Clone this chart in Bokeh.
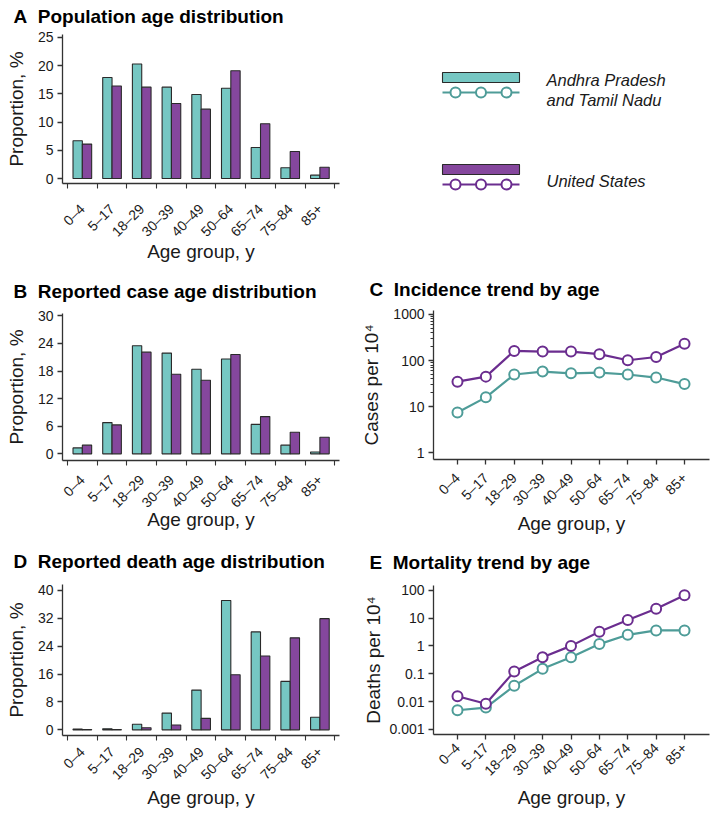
import math
from bokeh.plotting import figure
from bokeh.models import ColumnDataSource, Range1d, FixedTicker, CustomJSTickFormatter
from bokeh.layouts import column, row
from bokeh.transform import dodge
from bokeh.core.properties import value
from bokeh.embed import file_html
from bokeh.resources import INLINE

# ---------------- data ----------------
age_groups = ["0–4", "5–17", "18–29", "30–39", "40–49", "50–64", "65–74", "75–84", "85+"]

pop_india = [6.7, 17.9, 20.3, 16.2, 14.9, 16.0, 5.5, 1.9, 0.6]
pop_us = [6.1, 16.4, 16.2, 13.3, 12.3, 19.1, 9.7, 4.8, 2.0]

case_india = [1.3, 6.8, 23.5, 21.9, 18.4, 20.6, 6.4, 1.9, 0.4]
case_us = [1.9, 6.3, 22.1, 17.3, 16.0, 21.6, 8.1, 4.7, 3.6]

death_india = [0.2, 0.3, 1.6, 4.8, 11.4, 37.1, 28.1, 13.9, 3.6]
death_us = [0.1, 0.1, 0.6, 1.4, 3.3, 15.8, 21.2, 26.4, 31.9]

inc_india = [7.5, 16, 50, 58, 53, 55, 50, 43, 31]
inc_us = [35, 45, 162, 157, 157, 138, 102, 120, 233]

mort_india = [0.0049, 0.0061, 0.037, 0.15, 0.39, 1.16, 2.5, 3.6, 3.6]
mort_us = [0.0155, 0.0084, 0.12, 0.39, 1.0, 3.2, 8.5, 21.5, 66]

ticks_A = [0, 5, 10, 15, 20, 25]
ticks_B = [0, 6, 12, 18, 24, 30]
ticks_D = [0, 8, 16, 24, 32, 40]
ticks_C = [1, 10, 100, 1000]
minor_C = [20, 30, 40, 50, 60, 70, 80, 90, 200, 300, 400, 500, 600, 700, 800, 900]
ticks_E = [0.001, 0.01, 0.1, 1, 10, 100]

series_names = ["Andhra Pradesh", "and Tamil Nadu", "United States"]

# ---------------- style ----------------
FONT = "Liberation Sans"
CYAN = "#76C7C3"
PURPLE = "#85479D"
TEAL_LINE = "#4E9C98"
PURPLE_LINE = "#6B2D8F"
AX = "#333333"
TXT = "#1a1a1a"
SEP = "\u00a0\u00a0"
TITLE_H = 20      # approx. text box height of the 19px bold title
TITLE_ASC = 20    # approx. offset from box top to baseline

idx = list(range(len(age_groups)))
labels = {i: a for i, a in enumerate(age_groups)}


def style(p):
    p.outline_line_color = None
    p.xgrid.visible = False
    p.ygrid.visible = False
    p.background_fill_color = "white"
    p.border_fill_color = "white"
    for ax in p.axis:
        ax.axis_line_color = AX
        ax.axis_line_width = 1.3
        ax.major_tick_line_color = AX
        ax.major_tick_line_width = 1.3
        ax.minor_tick_line_color = AX
        ax.minor_tick_line_width = 1.1
        ax.major_tick_in = 0
        ax.major_tick_out = 5
        ax.minor_tick_in = 0
        ax.minor_tick_out = 3
        ax.major_label_text_font = FONT
        ax.major_label_text_font_size = "14px"
        ax.major_label_text_color = TXT
        ax.major_label_standoff = 4
        ax.axis_label_text_font = FONT
        ax.axis_label_text_font_size = "19px"
        ax.axis_label_text_font_style = "normal"
        ax.axis_label_text_color = TXT


def set_title(p, text, top, left, baseline):
    t = p.title
    t.text = text
    t.text_font = FONT
    t.text_font_style = "bold"
    t.text_font_size = "19px"
    t.text_color = "black"
    t.align = "left"
    t.vertical_align = "top"
    t.offset = 13 - left
    want_top = baseline - TITLE_ASC
    s = 2 * (top - 2 - TITLE_H - want_top)
    s = max(0, min(s, top - 2 - TITLE_H))
    t.standoff = s


def bar_panel(title, v1, v2, yticks, yr, h, top, bottom, baseline, xl_stand, xal_stand):
    src = ColumnDataSource(dict(i=idx, a=v1, b=v2))
    p = figure(width=356, height=h, output_backend="svg", toolbar_location=None,
               x_range=Range1d(-0.668, 8.66), y_range=Range1d(*yr),
               min_border_left=62, min_border_right=17,
               min_border_top=top, min_border_bottom=bottom)
    p.vbar(x=dodge("i", -0.157, range=p.x_range), top="a", bottom=0, width=0.314,
           source=src, fill_color=CYAN, line_color="#2a2a2a", line_width=1.1)
    p.vbar(x=dodge("i", 0.157, range=p.x_range), top="b", bottom=0, width=0.314,
           source=src, fill_color=PURPLE, line_color="#2a2a2a", line_width=1.1)
    style(p)
    p.xaxis.ticker = FixedTicker(ticks=idx, minor_ticks=[k - 0.5 for k in range(len(age_groups) + 1)])
    p.xaxis.major_label_overrides = labels
    p.xaxis.major_label_orientation = math.pi / 4
    p.xaxis.major_tick_out = 0
    p.xaxis.minor_tick_out = 5
    p.xaxis.major_label_standoff = xl_stand
    p.xaxis.axis_label = "Age group, y"
    p.xaxis.axis_label_standoff = xal_stand
    p.yaxis.ticker = FixedTicker(ticks=yticks, minor_ticks=[])
    p.yaxis.axis_label = "Proportion, %"
    p.yaxis.axis_label_standoff = 8
    set_title(p, title, top, 62, baseline)
    return p


def line_panel(title, v1, v2, yticks, minor, yr, h, top, bottom, baseline, ylabel, yl_stand,
               xl_stand, xal_stand):
    src = ColumnDataSource(dict(i=idx, a=v1, b=v2))
    p = figure(width=356, height=h, output_backend="svg", toolbar_location=None,
               x_range=Range1d(-0.845, 8.88), y_range=Range1d(*yr), y_axis_type="log",
               min_border_left=77, min_border_right=3,
               min_border_top=top, min_border_bottom=bottom)
    p.line("i", "a", source=src, line_color=TEAL_LINE, line_width=2.2)
    p.scatter("i", "a", source=src, size=10, fill_color="white", line_color=TEAL_LINE, line_width=2)
    p.line("i", "b", source=src, line_color=PURPLE_LINE, line_width=2.2)
    p.scatter("i", "b", source=src, size=10, fill_color="white", line_color=PURPLE_LINE, line_width=2)
    style(p)
    p.xaxis.ticker = FixedTicker(ticks=idx, minor_ticks=[])
    p.xaxis.major_label_overrides = labels
    p.xaxis.major_label_orientation = math.pi / 4
    p.xaxis.major_label_standoff = xl_stand
    p.xaxis.axis_label = "Age group, y"
    p.xaxis.axis_label_standoff = xal_stand
    p.yaxis.ticker = FixedTicker(ticks=yticks, minor_ticks=minor)
    p.yaxis.formatter = CustomJSTickFormatter(code="return String(tick);")
    p.yaxis.axis_label = ylabel
    p.yaxis.axis_label_standoff = yl_stand
    set_title(p, title, top, 77, baseline)
    return p


pA = bar_panel("A" + SEP + "Population age distribution", pop_india, pop_us, ticks_A,
               (-0.88, 25.53), 270, 33, 87, 18, 18, -7)
pB = bar_panel("B" + SEP + "Reported case age distribution", case_india, case_us, ticks_B,
               (-1.44, 30.5), 270, 42, 80, 24, 12, -10)
pD = bar_panel("D" + SEP + "Reported death age distribution", death_india, death_us, ticks_D,
               (-1.62, 41.7), 272, 43, 77, 30, 9, -4)
pC = line_panel("C" + SEP + "Incidence trend by age", inc_india, inc_us, ticks_C, minor_C,
                (0.72, 1220), 270, 39, 81, 25, "Cases per 10⁴", 8, 11, -4)
pE = line_panel("E" + SEP + "Mortality trend by age", mort_india, mort_us, ticks_E, [],
                (0.00066, 147), 272, 44, 78, 31, "Deaths per 10⁴", 2, 6, 0)

# ---------------- legend panel ----------------
# frame spans the whole canvas vertically; 1 data unit = 1 pixel of the figure
pL = figure(width=356, height=270, output_backend="svg", toolbar_location=None,
            x_range=Range1d(77, 353), y_range=Range1d(270, 0),
            min_border_left=77, min_border_right=3, min_border_top=0, min_border_bottom=0,
            x_axis_location=None, y_axis_location=None)
pL.outline_line_color = None
pL.xgrid.visible = False
pL.ygrid.visible = False
sw_x0, sw_x1 = 86, 163
rows_y = [72, 164]
fills = [CYAN, PURPLE]
lines = [TEAL_LINE, PURPLE_LINE]
pL.quad(left=[sw_x0] * 2, right=[sw_x1] * 2, top=rows_y, bottom=[y + 10 for y in rows_y],
        fill_color=fills, line_color="#2a2a2a", line_width=1.1)
for y, c in zip(rows_y, lines):
    pL.line([sw_x0, sw_x1], [y + 20, y + 20], line_color=c, line_width=2)
    pL.scatter([99, 124.5, 150], [y + 20] * 3, size=10, fill_color="white", line_color=c, line_width=2)
pL.text(x=[190, 190, 190], y=[79, 99, 180], text=series_names,
        text_font=value(FONT), text_font_style="italic", text_font_size="16.5px",
        text_color=TXT, text_baseline="alphabetic", text_align="left")

layout = row(column(pA, pB, pD, spacing=0), column(pL, pC, pE, spacing=0), spacing=0)

with open("out.html", "w") as f:
    f.write(file_html(layout, INLINE))
